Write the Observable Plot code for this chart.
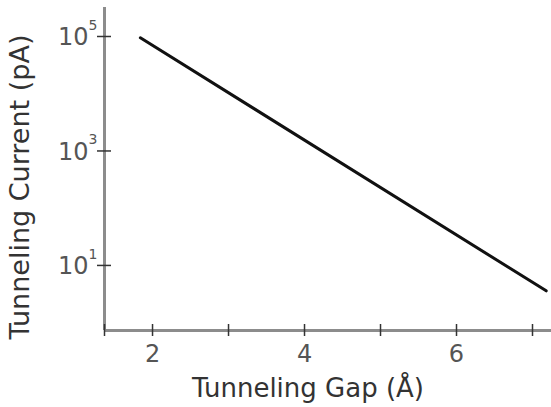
<!DOCTYPE html>
<html>
<head>
<meta charset="utf-8">
<script src="https://cdn.jsdelivr.net/npm/d3@7"></script>
<script src="https://cdn.jsdelivr.net/npm/@observablehq/plot@0.6"></script>
<style>
  html, body { margin: 0; padding: 0; background: #fff; }
</style>
</head>
<body>
<div id="chart"></div>
<script>
// Data
const gap = [1.84, 7.18];          // Tunneling gap (Å)
const current = [95000, 3.6];      // Tunneling current (pA)
const xTickMarks = [2, 3, 4, 5, 6, 7];
const xTickLabels = [2, 4, 6];
const yTicks = [10, 1000, 100000];
const xDomain = [1.368, 7.25];
const yDomain = [0.73, 321000];
const xLabel = "Tunneling Gap (Å)";
const yLabel = "Tunneling Current (pA)";

const data = gap.map((g, i) => ({gap: g, current: current[i]}));

const chart = Plot.plot({
  width: 551,
  height: 407,
  marginLeft: 104,
  marginRight: 0,
  marginTop: 7,
  marginBottom: 77,
  x: {domain: xDomain},
  y: {type: "log", domain: yDomain},
  style: {fontFamily: "DejaVu Sans", background: "white"},
  marks: [
    Plot.ruleY([yDomain[0]], {stroke: "#8c8c8c", strokeWidth: 3}),
    Plot.ruleX([xDomain[0]], {stroke: "#8c8c8c", strokeWidth: 3}),
    Plot.axisX({ticks: [xDomain[0], ...xTickMarks], tickSize: 12, dy: -6, tickFormat: () => "", label: null, stroke: "#333", strokeWidth: 1.5}),
    Plot.axisX({ticks: xTickLabels, tickSize: 0, tickPadding: 14, fontSize: 24, fill: "#555", tickFormat: d => String(d), label: null}),
    Plot.axisY({ticks: yTicks, tickSize: 14, dx: 7, tickFormat: () => "", label: null, stroke: "#333", strokeWidth: 1.5}),
    Plot.text(yTicks, {y: d => d, frameAnchor: "left", text: () => "10", dx: -16, dy: 1, textAnchor: "end", lineAnchor: "middle", fontSize: 24, fill: "#555"}),
    Plot.text(yTicks, {y: d => d, frameAnchor: "left", text: d => String(Math.round(Math.log10(d))), dx: -7, dy: -11, textAnchor: "end", lineAnchor: "middle", fontSize: 14, fill: "#555"}),
    Plot.line(data, {x: "gap", y: "current", stroke: "#111", strokeWidth: 3}),
    Plot.text([xLabel], {frameAnchor: "bottom", dx: -20, dy: 58, textAnchor: "middle", lineAnchor: "middle", fontSize: 26, fill: "#333"}),
    Plot.text([yLabel], {frameAnchor: "left", rotate: -90, dx: -84, dy: 18, textAnchor: "middle", lineAnchor: "middle", fontSize: 27, fill: "#333"})
  ]
});
document.getElementById("chart").appendChild(chart);
</script>
</body>
</html>
